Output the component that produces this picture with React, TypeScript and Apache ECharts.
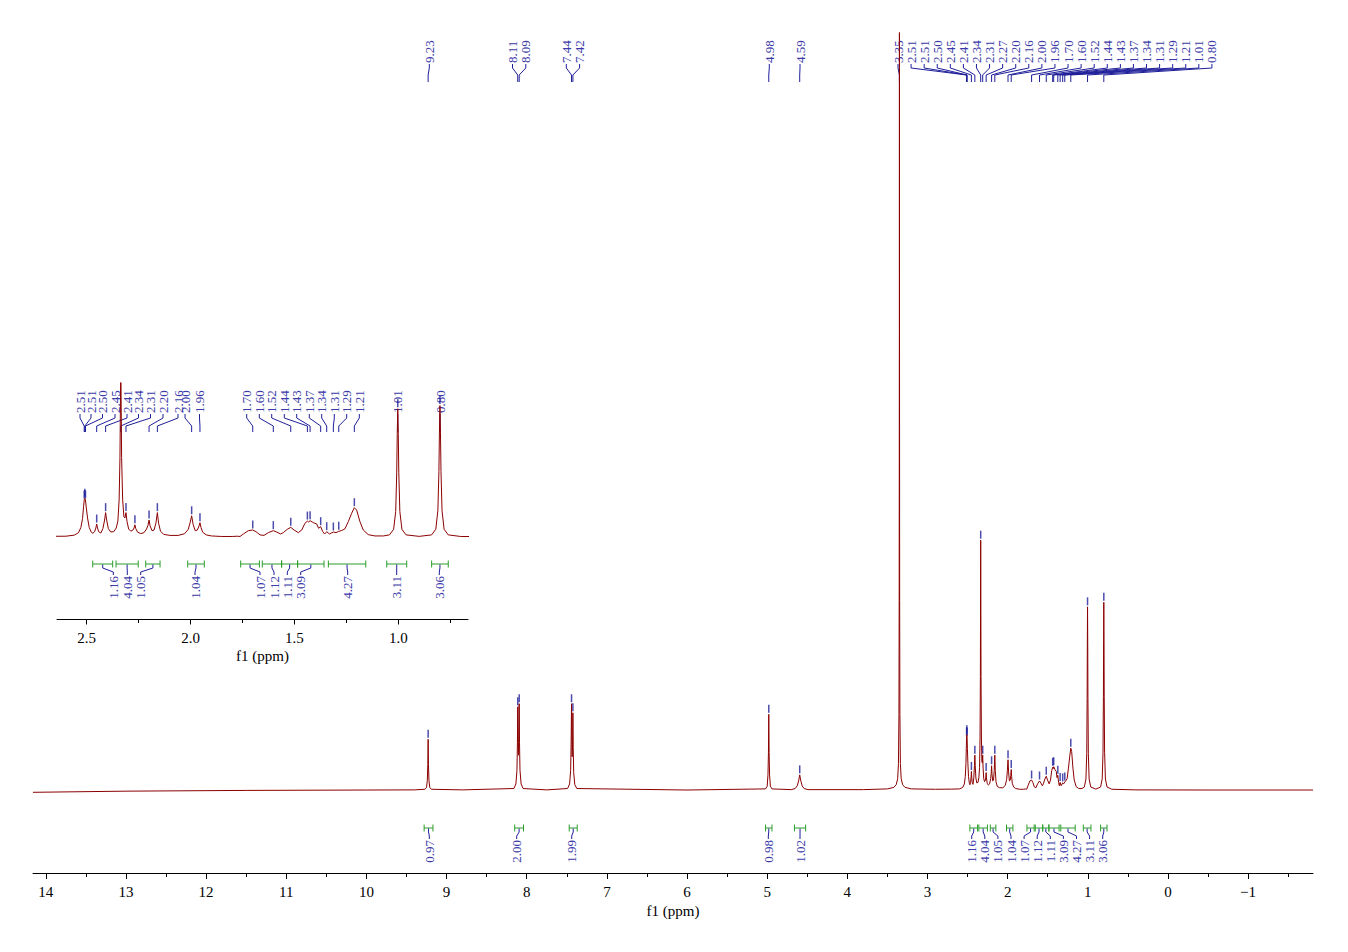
import { useEffect, useRef } from "react";
import * as echarts from "echarts";

// ---------------- DATA ----------------
// spectrum points [ppm, intensity]
const lowFieldSpectrum: [number, number][] = [
  [14.16, -0.3], [13.0, -0.15], [11.5, -0.05], [10.0, 0], [9.4, 0.02],
  [9.27, 0.1], [9.25, 0.35], [9.24, 1.3], [9.234, 3.4], [9.23, 6.7], [9.226, 3.4], [9.22, 1.3], [9.21, 0.35], [9.19, 0.1],
  [8.8, 0.02],
  [8.16, 0.2], [8.135, 0.8], [8.122, 2.6], [8.116, 6.2], [8.112, 11.0], [8.107, 6.5], [8.103, 4.6], [8.099, 6.8], [8.094, 11.4], [8.09, 6.3], [8.084, 2.6], [8.07, 0.8], [8.045, 0.2],
  [7.75, 0.02],
  [7.49, 0.2], [7.465, 0.8], [7.452, 2.6], [7.446, 6.3], [7.441, 11.4], [7.437, 6.4], [7.433, 4.4], [7.428, 6.0], [7.424, 10.2], [7.42, 5.6], [7.414, 2.3], [7.4, 0.7], [7.375, 0.2],
  [6.0, 0],
  [5.02, 0.15], [5.0, 0.5], [4.99, 2.0], [4.984, 5.0], [4.98, 10.0], [4.976, 5.0], [4.97, 2.0], [4.96, 0.5], [4.94, 0.15],
  [4.7, 0.05], [4.65, 0.2], [4.625, 0.55], [4.608, 1.2], [4.594, 2.0], [4.58, 1.2], [4.563, 0.55], [4.54, 0.2], [4.49, 0.05],
];

const waterSpectrum: [number, number][] = [
  [3.8, 0.05], [3.5, 0.15], [3.42, 0.35], [3.39, 0.7], [3.372, 1.5], [3.362, 3.5], [3.356, 10], [3.353, 25], [3.351, 60], [3.35, 150],
  [3.349, 60], [3.347, 25], [3.344, 10], [3.338, 3.5], [3.328, 1.5], [3.31, 0.7], [3.28, 0.35], [3.2, 0.15], [2.9, 0.1], [2.7, 0.12],
];

const aliphaticSpectrum: [number, number][] = [
  [2.6, 0.15], [2.56, 0.35], [2.54, 0.8], [2.528, 1.8], [2.52, 3.5], [2.515, 5.8], [2.512, 7.0], [2.509, 7.3], [2.506, 7.0], [2.502, 5.5], [2.496, 3.6], [2.488, 1.8], [2.478, 0.9], [2.47, 0.7],
  [2.462, 1.0], [2.456, 1.7], [2.452, 2.45], [2.448, 1.7], [2.442, 1.0], [2.432, 0.75],
  [2.422, 1.6], [2.414, 3.2], [2.409, 4.6], [2.404, 3.2], [2.396, 1.6], [2.385, 0.95], [2.37, 1.0], [2.358, 1.7], [2.35, 3.0],
  [2.344, 7.0], [2.34, 15], [2.336, 33], [2.332, 15], [2.327, 7.0], [2.321, 3.8], [2.316, 3.6],
  [2.311, 4.6], [2.306, 2.9], [2.298, 1.5], [2.288, 1.1], [2.278, 1.3], [2.272, 1.7], [2.268, 2.3], [2.264, 1.6], [2.255, 0.9], [2.24, 0.65],
  [2.225, 0.8], [2.212, 1.5], [2.205, 2.2], [2.2, 3.2], [2.195, 2.1], [2.186, 1.2], [2.176, 1.3], [2.167, 2.6], [2.16, 4.6], [2.154, 2.6], [2.145, 1.1],
  [2.13, 0.5], [2.1, 0.3], [2.06, 0.3], [2.03, 0.6], [2.012, 1.4], [2.003, 2.6], [1.995, 4.0], [1.988, 2.4], [1.978, 1.2], [1.968, 1.3], [1.961, 1.9], [1.955, 2.7], [1.95, 1.8], [1.942, 0.9], [1.925, 0.4], [1.9, 0.2], [1.85, 0.1], [1.8, 0.1], [1.775, 0.15],
  [1.762, 0.1], [1.746, 0.57], [1.722, 1.2], [1.701, 1.32], [1.685, 1.0], [1.666, 0.4], [1.647, 0.3], [1.626, 0.82], [1.602, 1.2], [1.586, 0.94], [1.567, 0.57],
  [1.554, 0.82], [1.535, 1.45], [1.518, 1.82], [1.502, 1.32], [1.482, 0.82], [1.465, 1.32], [1.45, 2.58], [1.438, 3.0], [1.432, 2.83], [1.425, 3.08], [1.409, 2.7],
  [1.393, 2.45], [1.384, 1.64], [1.374, 1.95], [1.364, 1.0], [1.355, 0.57], [1.345, 1.0], [1.332, 0.57], [1.313, 0.94], [1.3, 0.82], [1.287, 1.07], [1.275, 1.2],
  [1.258, 1.5], [1.241, 2.9], [1.225, 4.47], [1.212, 5.53], [1.201, 5.09], [1.185, 2.9], [1.169, 1.32], [1.145, 0.45], [1.113, 0.2], [1.072, 0.2],
];

const highFieldSpectrum: [number, number][] = [
  [1.043, 0.4], [1.023, 1.45], [1.013, 4.8], [1.008, 12.1], [1.0055, 19.4], [1.003, 24.2], [1.0005, 19.4], [0.998, 12.1], [0.993, 4.8], [0.983, 1.45], [0.963, 0.4], [0.9, 0.12],
  [0.84, 0.4], [0.82, 1.46], [0.81, 5.0], [0.805, 12.4], [0.8025, 19.8], [0.8, 24.8], [0.7975, 19.8], [0.795, 12.4], [0.79, 5.0], [0.78, 1.46], [0.76, 0.4],
  [0.7, 0.1], [0.4, 0.02], [-0.5, 0], [-1.81, 0],
];

const spectrum = [...lowFieldSpectrum, ...waterSpectrum, ...aliphaticSpectrum, ...highFieldSpectrum];

// peak picking
const peakLabels = ["9.23", "8.11", "8.09", "7.44", "7.42", "4.98", "4.59", "3.35",
  "2.51", "2.51", "2.50", "2.45", "2.41", "2.34", "2.31", "2.27", "2.20", "2.16", "2.00", "1.96",
  "1.70", "1.60", "1.52", "1.44", "1.43", "1.37", "1.34", "1.31", "1.29", "1.21", "1.01", "0.80"];
const peakPpm = [9.23, 8.112, 8.094, 7.441, 7.424, 4.98, 4.594, 3.35,
  2.512, 2.509, 2.506, 2.452, 2.409, 2.336, 2.311, 2.268, 2.2, 2.16, 1.995, 1.955,
  1.701, 1.602, 1.518, 1.438, 1.425, 1.374, 1.345, 1.313, 1.287, 1.212, 1.003, 0.8];
const peakHeight = [6.7, 11.0, 11.4, 11.4, 10.2, 10.0, 2.0, 150,
  7.0, 7.3, 7.0, 2.45, 4.6, 33, 4.6, 2.3, 3.2, 4.6, 4.0, 2.7,
  1.32, 1.2, 1.82, 3.0, 3.08, 1.95, 1.0, 0.94, 1.07, 5.53, 24.2, 24.8];
// peaks labelled in the inset (indices into the lists above)
const insetPeakIndex = [8, 9, 10, 11, 12, 13, 14, 16, 17, 18, 19, 20, 21, 22, 23, 24, 25, 26, 27, 28, 29, 30, 31];

// integrals
const integralLabels = ["0.97", "2.00", "1.99", "0.98", "1.02", "1.16", "4.04", "1.05", "1.04", "1.07", "1.12", "1.11", "3.09", "4.27", "3.11", "3.06"];
const integralFrom = [9.28, 8.15, 7.47, 5.02, 4.66, 2.471, 2.359, 2.216, 2.014, 1.759, 1.655, 1.562, 1.485, 1.337, 1.056, 0.84];
const integralTo = [9.17, 8.04, 7.37, 4.94, 4.52, 2.375, 2.252, 2.147, 1.934, 1.669, 1.562, 1.485, 1.358, 1.157, 0.96, 0.76];
const insetIntegralStart = 5;

// axis ticks
const mainTicks = [-1, 0, 1, 2, 3, 4, 5, 6, 7, 8, 9, 10, 11, 12, 13, 14];
const mainMinorTicks = [-1.5, -0.5, 0.5, 1.5, 2.5, 3.5, 4.5, 5.5, 6.5, 7.5, 8.5, 9.5, 10.5, 11.5, 12.5, 13.5];
const insetTicks = [1.0, 1.5, 2.0, 2.5];
const insetMinorTicks = [0.75, 1.25, 1.75, 2.25];

// ---------------- LAYOUT ----------------
const MAIN = { left: 33, right: 35, top: 33, bottom: 154.4, xMin: -1.81, xMax: 14.16, yMin: -1, yMax: 100, axisOffset: 75.4 };
const INSET = { left: 57, right: 880, top: 383, bottom: 409.7, xMin: 0.665, xMax: 2.643, yMin: -1, yMax: 29.06, axisOffset: 77.2 };

const mainPeakLabelX = [429.3, 512.5, 525.8, 566.3, 579.6, 769.3, 800,
  ...Array.from({ length: 25 }, (_, i) => 898 + i * 13.08)];
const insetPeakLabelX = [80, 91, 102.5, 115, 127, 138.5, 150.5, 163, 178, 185, 199.5,
  246.7, 259.3, 271.7, 284.3, 296.7, 309.3, 321.7, 334.3, 346.7, 359.3, 397.7, 440];
const mainIntegralLabelX = [429.3, 516.7, 571.7, 768.3, 800, 971.7, 984.8, 997.9, 1011, 1024.1, 1037.2, 1050.3, 1063.4, 1076.5, 1089.6, 1102.7];
const insetIntegralLabelX = [113.3, 127.3, 140.7, 195, 260, 274, 287.3, 300.7, 347.7, 396.7, 439.3];

const RED = "#8b0000";
const BLUE = "#1f1f9a";
const LABEL_BLUE = "#3a3aa8";
const GREEN = "#2a9d2a";
const FONT = '"Liberation Serif", "DejaVu Serif", serif';

function fmtTick(v: number) {
  return v < 0 ? "\u2212" + Math.abs(v) : String(v);
}

export default function App() {
  const ref = useRef<HTMLDivElement>(null);

  useEffect(() => {
    if (!ref.current) return;
    const chart = echarts.init(ref.current, undefined, { renderer: "svg" });

    const xBase = (grid: number, cfg: any) => ({
      gridIndex: grid,
      type: "value",
      inverse: true,
      min: cfg.xMin,
      max: cfg.xMax,
      position: "bottom",
      offset: cfg.axisOffset,
      splitLine: { show: false },
    });

    const peakMarkers = peakPpm.map((p, i) => [p, peakHeight[i]]);

    chart.setOption({
      animation: false,
      backgroundColor: "#ffffff",
      grid: [
        { left: MAIN.left, right: MAIN.right, top: MAIN.top, bottom: MAIN.bottom },
        { left: INSET.left, right: INSET.right, top: INSET.top, bottom: INSET.bottom },
      ],
      xAxis: [
        {
          ...xBase(0, MAIN),
          axisLine: { show: true, onZero: false, lineStyle: { color: "#000", width: 1 } },
          axisTick: { show: true, length: 6, lineStyle: { color: "#000" }, customValues: mainTicks },
          axisLabel: { show: true, customValues: mainTicks, formatter: fmtTick, color: "#000", fontFamily: FONT, fontSize: 15, margin: 11 },
          name: "f1 (ppm)",
          nameLocation: "middle",
          nameGap: 29,
          nameTextStyle: { color: "#000", fontFamily: FONT, fontSize: 15 },
        },
        {
          ...xBase(0, MAIN),
          axisLine: { show: false, onZero: false },
          axisTick: { show: true, length: 4, lineStyle: { color: "#000" }, customValues: mainMinorTicks },
          axisLabel: { show: false },
        },
        {
          ...xBase(1, INSET),
          axisLine: { show: true, onZero: false, lineStyle: { color: "#000", width: 1 } },
          axisTick: { show: true, length: 5, lineStyle: { color: "#000" }, customValues: insetTicks },
          axisLabel: { show: true, customValues: insetTicks, formatter: (v: number) => v.toFixed(1), color: "#000", fontFamily: FONT, fontSize: 15, margin: 11 },
          name: "f1 (ppm)",
          nameLocation: "middle",
          nameGap: 29,
          nameTextStyle: { color: "#000", fontFamily: FONT, fontSize: 15 },
        },
        {
          ...xBase(1, INSET),
          axisLine: { show: false, onZero: false },
          axisTick: { show: true, length: 3.5, lineStyle: { color: "#000" }, customValues: insetMinorTicks },
          axisLabel: { show: false },
        },
      ],
      yAxis: [
        { gridIndex: 0, type: "value", min: MAIN.yMin, max: MAIN.yMax, show: false, splitLine: { show: false } },
        { gridIndex: 1, type: "value", min: INSET.yMin, max: INSET.yMax, show: false, splitLine: { show: false } },
      ],
      series: [
        {
          type: "line", xAxisIndex: 0, yAxisIndex: 0, data: spectrum, showSymbol: false, symbol: "none",
          lineStyle: { color: RED, width: 1 }, clip: true, silent: true,
        },
        {
          type: "line", xAxisIndex: 2, yAxisIndex: 1, data: spectrum, showSymbol: false, symbol: "none",
          lineStyle: { color: RED, width: 1 }, clip: true, silent: true,
        },
        {
          type: "scatter", xAxisIndex: 0, yAxisIndex: 0, data: peakMarkers, symbol: "rect", symbolSize: [1.5, 8],
          symbolOffset: [0, -5.5], itemStyle: { color: BLUE }, clip: true, silent: true,
        },
        {
          type: "scatter", xAxisIndex: 2, yAxisIndex: 1, data: peakMarkers, symbol: "rect", symbolSize: [1.5, 8],
          symbolOffset: [0, -5.5], itemStyle: { color: BLUE }, clip: true, silent: true,
        },
      ],
    });

    const toX = (axis: number, ppm: number) => chart.convertToPixel({ xAxisIndex: axis }, ppm) as number;

    const g: any[] = [];
    const poly = (pts: number[][], color: string) =>
      g.push({ type: "polyline", silent: true, shape: { points: pts }, style: { stroke: color, lineWidth: 1, fill: null } });
    const vtext = (x: number, y: number, text: string, align: string) =>
      g.push({
        type: "text", silent: true, x, y, rotation: Math.PI / 2,
        style: { text, fill: LABEL_BLUE, font: `13px ${FONT}`, align, verticalAlign: "middle" },
      });

    // main peak labels
    peakLabels.forEach((lab, i) => {
      const px = toX(0, peakPpm[i]);
      const lx = mainPeakLabelX[i];
      poly([[lx, 64], [lx, 68], [px, 75], [px, 82]], BLUE);
      vtext(lx, 63, lab, "left");
    });

    // inset peak labels
    insetPeakIndex.forEach((idx, k) => {
      const px = toX(2, peakPpm[idx]);
      const lx = insetPeakLabelX[k];
      poly([[lx, 414], [lx, 418], [px, 426], [px, 432]], BLUE);
      vtext(lx, 413, peakLabels[idx], "left");
    });

    // integrals
    const drawIntegral = (axis: number, i: number, lx: number, yBar: number) => {
      const x1 = toX(axis, integralFrom[i]);
      const x2 = toX(axis, integralTo[i]);
      const cx = (x1 + x2) / 2;
      poly([[x1, yBar], [x2, yBar]], GREEN);
      poly([[x1, yBar - 3.5], [x1, yBar + 3.5]], GREEN);
      poly([[x2, yBar - 3.5], [x2, yBar + 3.5]], GREEN);
      poly([[cx, yBar + 0.5], [cx, yBar + 4], [lx, yBar + 8], [lx, yBar + 11]], BLUE);
      vtext(lx, yBar + 12, integralLabels[i], "right");
    };
    integralLabels.forEach((_, i) => drawIntegral(0, i, mainIntegralLabelX[i], 828));
    for (let i = insetIntegralStart; i < integralLabels.length; i++) {
      drawIntegral(2, i, insetIntegralLabelX[i - insetIntegralStart], 564);
    }

    chart.setOption({ graphic: g });

    return () => chart.dispose();
  }, []);

  return (
    <div
      ref={ref}
      style={{ position: "absolute", left: 0, top: 0, width: 1348, height: 952, background: "#fff" }}
    />
  );
}
